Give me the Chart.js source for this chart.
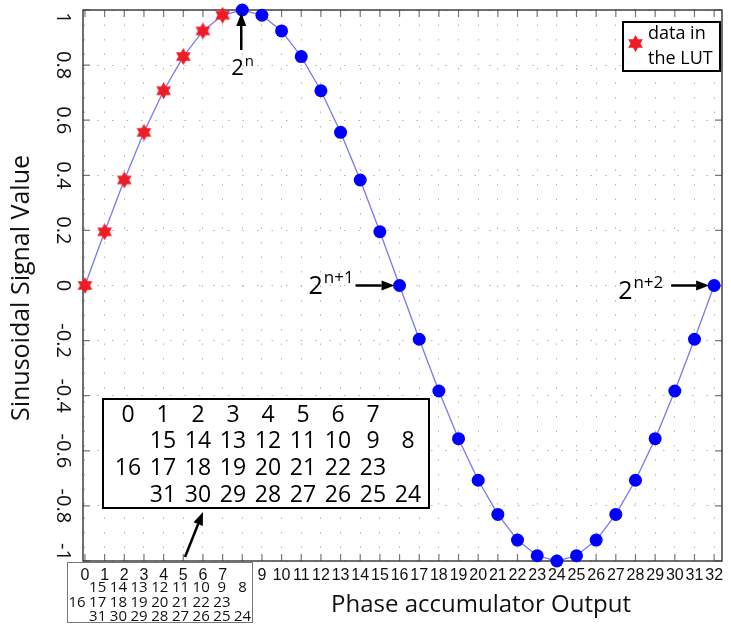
<!DOCTYPE html>
<html>
<head>
<meta charset="utf-8">
<title>Sine LUT</title>
<script src="https://cdn.jsdelivr.net/npm/chart.js@4.4.1/dist/chart.umd.min.js"></script>
<style>
  html, body { margin: 0; padding: 0; background: #fff; }
</style>
</head>
<body>
<canvas id="sineChart" width="731" height="626"></canvas>
<script>
// phase accumulator output (x) and the sine sample read at each step (y)
const phase = [0, 1, 2, 3, 4, 5, 6, 7, 8, 9, 10, 11, 12, 13, 14, 15, 16,
               17, 18, 19, 20, 21, 22, 23, 24, 25, 26, 27, 28, 29, 30, 31, 32];
const signal = [0, 0.195, 0.383, 0.556, 0.707, 0.831, 0.924, 0.981,
                1, 0.981, 0.924, 0.831, 0.707, 0.556, 0.383, 0.195,
                0, -0.195, -0.383, -0.556, -0.707, -0.831, -0.924, -0.981,
                -1, -0.981, -0.924, -0.831, -0.707, -0.556, -0.383, -0.195, 0];
const lutSize = 8; // first quarter wave is what the LUT stores

// how the 32 addresses fold back onto the 8 LUT entries
const lutRows = [
    [0, 1, 2, 3, 4, 5, 6, 7],
    [15, 14, 13, 12, 11, 10, 9, 8],
    [16, 17, 18, 19, 20, 21, 22, 23],
    [31, 30, 29, 28, 27, 26, 25, 24]
];
const rowShift = [0, 1, 0, 1];

// y tick labels, top to bottom
const yLabels = ['1', '0.8', '0.6', '0.4', '0.2', '0', '-0.2', '-0.4', '-0.6', '-0.8', '-1'];

const FONT = "'Open Sans', 'Noto Sans', sans-serif";

// six pointed red star used for the LUT samples
function hexStar(size, color) {
    const c = document.createElement('canvas');
    c.width = c.height = size;
    const g = c.getContext('2d');
    const r = size / 2;
    g.fillStyle = color;
    g.beginPath();
    for (let k = 0; k < 12; k++) {
        const a = -Math.PI / 2 + k * Math.PI / 6;
        const rr = k % 2 === 0 ? r : r * 0.58;
        g.lineTo(r + rr * Math.cos(a), r + rr * Math.sin(a));
    }
    g.closePath();
    g.fill();
    return c;
}
const star = hexStar(17, '#ee1c25');

function arrow(ctx, x1, y1, x2, y2) {
    const ang = Math.atan2(y2 - y1, x2 - x1);
    const head = 13, half = 5;
    ctx.beginPath();
    ctx.moveTo(x1, y1);
    ctx.lineTo(x2 - head * Math.cos(ang), y2 - head * Math.sin(ang));
    ctx.lineWidth = 2.5;
    ctx.stroke();
    ctx.beginPath();
    ctx.moveTo(x2, y2);
    ctx.lineTo(x2 - head * Math.cos(ang) + half * Math.sin(ang), y2 - head * Math.sin(ang) - half * Math.cos(ang));
    ctx.lineTo(x2 - head * Math.cos(ang) - half * Math.sin(ang), y2 - head * Math.sin(ang) + half * Math.cos(ang));
    ctx.closePath();
    ctx.fill();
}

function powerLabel(ctx, x, y, base, exp, size) {
    ctx.textAlign = 'left';
    ctx.textBaseline = 'alphabetic';
    ctx.font = size + 'px ' + FONT;
    ctx.fillText(base, x, y);
    const w = ctx.measureText(base).width;
    ctx.font = Math.round(size * 0.66) + 'px ' + FONT;
    ctx.fillText(exp, x + w + 1, y - size * 0.42);
}

const decorations = {
    id: 'decorations',
    beforeDatasetsDraw(chart) {
        const { ctx, chartArea: a, scales: { x, y } } = chart;
        ctx.save();
        // tick marks, pointing into the plot
        ctx.strokeStyle = '#777';
        ctx.lineWidth = 1.2;
        ctx.beginPath();
        x.ticks.forEach(t => {
            const px = x.getPixelForValue(t.value);
            ctx.moveTo(px, a.bottom); ctx.lineTo(px, a.bottom - 7);
            ctx.moveTo(px, a.top); ctx.lineTo(px, a.top + 7);
        });
        y.ticks.forEach(t => {
            const py = y.getPixelForValue(t.value);
            ctx.moveTo(a.left, py); ctx.lineTo(a.left + 7, py);
            ctx.moveTo(a.right, py); ctx.lineTo(a.right - 7, py);
        });
        ctx.stroke();
        // frame
        ctx.strokeStyle = '#333';
        ctx.lineWidth = 1.4;
        ctx.strokeRect(a.left, a.top, a.right - a.left, a.bottom - a.top);

        // y tick labels, turned a quarter clockwise; the end ones kept inside the frame
        ctx.fillStyle = '#111';
        ctx.font = '20px ' + FONT;
        ctx.textAlign = 'center';
        ctx.textBaseline = 'middle';
        const n = y.ticks.length;
        y.ticks.forEach((t, i) => {
            let py = y.getPixelForValue(t.value);
            if (i === 0) py -= 9;
            if (i === n - 1) py += 8;
            ctx.save();
            ctx.translate(a.left - 20, py);
            ctx.rotate(Math.PI / 2);
            ctx.fillText(yLabels[n - 1 - i], 0, 0);
            ctx.restore();
        });

        // axis titles
        ctx.font = '25px ' + FONT;
        ctx.save();
        ctx.translate(22, 288);
        ctx.rotate(-Math.PI / 2);
        ctx.fillText('Sinusoidal Signal Value', 0, 0);
        ctx.restore();
        ctx.font = '24px ' + FONT;
        ctx.fillText('Phase accumulator Output', 481, 605);
        ctx.restore();
    },
    afterDatasetsDraw(chart) {
        const { ctx, scales: { x, y } } = chart;
        ctx.save();
        ctx.fillStyle = '#000';
        ctx.strokeStyle = '#000';

        // 2^n, 2^(n+1), 2^(n+2) markers
        const p8 = [x.getPixelForValue(8), y.getPixelForValue(1)];
        const p16 = [x.getPixelForValue(16), y.getPixelForValue(0)];
        const p32 = [x.getPixelForValue(32), y.getPixelForValue(0)];
        arrow(ctx, p8[0] - 1, p8[1] + 40, p8[0] - 1, p8[1] + 3);
        powerLabel(ctx, p8[0] - 11, p8[1] + 65, '2', 'n', 22);
        arrow(ctx, p16[0] - 44, p16[1], p16[0] - 5, p16[1]);
        powerLabel(ctx, p16[0] - 91, p16[1] + 8, '2', 'n+1', 25);
        arrow(ctx, p32[0] - 43, p32[1], p32[0] - 5, p32[1]);
        powerLabel(ctx, p32[0] - 96, p32[1] + 13, '2', 'n+2', 25);

        // legend
        ctx.fillStyle = '#fff';
        ctx.fillRect(623, 22, 97, 49);
        ctx.lineWidth = 2;
        ctx.strokeRect(623, 22, 97, 49);
        ctx.drawImage(star, 627, 35);
        ctx.fillStyle = '#000';
        ctx.font = '18px ' + FONT;
        ctx.textAlign = 'left';
        ctx.textBaseline = 'middle';
        ctx.fillText('data in', 648, 34);
        ctx.fillText('the LUT', 648, 59);

        // folded address table
        ctx.fillStyle = '#fff';
        ctx.fillRect(103, 399, 326, 109);
        ctx.strokeRect(103, 399, 326, 109);
        ctx.fillStyle = '#000';
        ctx.font = '23px ' + FONT;
        ctx.textAlign = 'center';
        lutRows.forEach((row, r) => {
            row.forEach((v, i) => {
                ctx.fillText(String(v), 128 + 35 * (i + rowShift[r]), 415 + 26.7 * r);
            });
        });
        arrow(ctx, 185, 557, 203, 512);

        // small copy of the table under the first ticks
        ctx.strokeStyle = '#777';
        ctx.lineWidth = 1;
        ctx.strokeRect(67.5, 562.5, 185, 60);
        ctx.font = '15px ' + FONT;
        ctx.fillStyle = '#111';
        lutRows.slice(1).forEach((row, r) => {
            row.forEach((v, i) => {
                ctx.fillText(String(v), 77 + 20.7 * (i + rowShift[r + 1]), 588 + 14.5 * r);
            });
        });
        ctx.restore();
    }
};

new Chart(document.getElementById('sineChart'), {
    type: 'scatter',
    data: {
        datasets: [{
            label: 'data in the LUT',
            data: phase.slice(0, lutSize).map((p, i) => ({ x: p, y: signal[i] })),
            pointStyle: star,
            pointRadius: 8,
            clip: false
        }, {
            label: 'sine',
            data: phase.map((p, i) => ({ x: p, y: signal[i] })),
            showLine: true,
            borderColor: '#7878f0',
            borderWidth: 1.3,
            pointRadius: ctx => ctx.dataIndex < lutSize ? 0 : 6.5,
            pointBackgroundColor: '#0000ff',
            pointBorderColor: '#0000ff',
            pointBorderWidth: 0,
            clip: false
        }]
    },
    plugins: [decorations],
    options: {
        responsive: false,
        animation: false,
        events: [],
        layout: { padding: { top: 10, right: 2, left: 0, bottom: 0 } },
        plugins: { legend: { display: false }, tooltip: { enabled: false } },
        scales: {
            x: {
                type: 'linear',
                min: -0.1,
                max: 32.4,
                afterFit: s => { s.height = 65; },
                ticks: {
                    stepSize: 1,
                    includeBounds: false,
                    autoSkip: false,
                    maxRotation: 0,
                    padding: 5,
                    color: '#111',
                    font: { family: "'Liberation Sans', Arial, sans-serif", size: 16 },
                    callback: v => (v === 8 ? '' : v)
                },
                grid: { color: '#b4b4b4', lineWidth: 1, drawTicks: false },
                border: { display: false, dash: [1.5, 13] }
            },
            y: {
                min: -1,
                max: 1,
                afterFit: s => { s.width = 83; },
                ticks: { stepSize: 0.2, display: false },
                grid: { color: '#b4b4b4', lineWidth: 1, drawTicks: false },
                border: { display: false, dash: [1.5, 13] }
            }
        }
    }
});
</script>
</body>
</html>
